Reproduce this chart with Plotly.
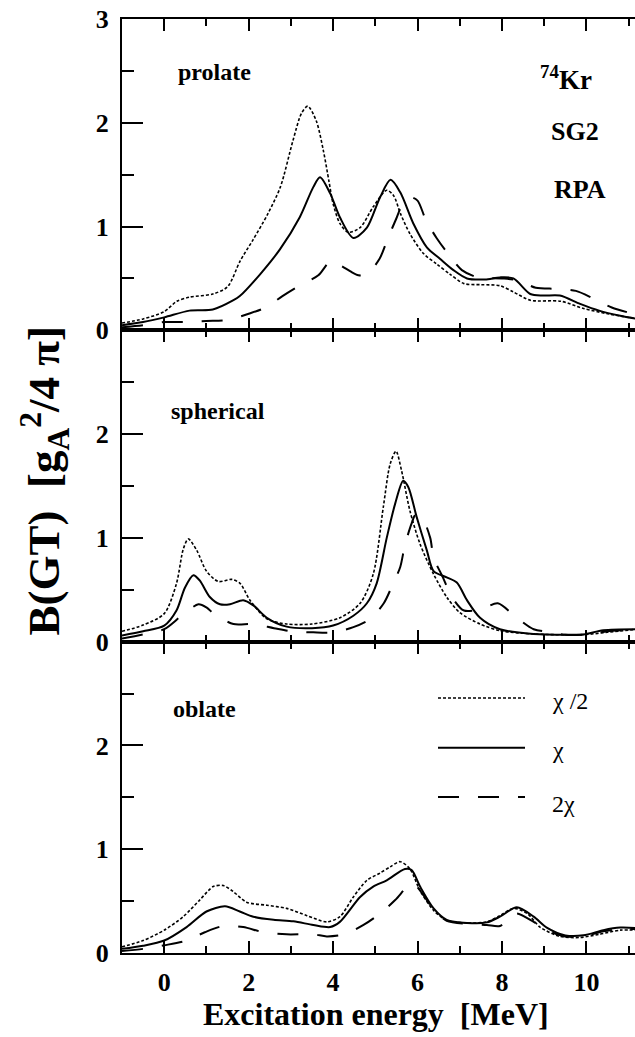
import plotly.graph_objects as go

SERIF = "Liberation Serif, Times New Roman, Times, serif"

# ---------------- data (Excitation energy [MeV], B(GT)) ----------------
# prolate panel
pro_half_x = [-1, -0.5, 0, 0.3, 0.6, 1.15, 1.5, 1.8, 2.1, 2.45, 2.75, 3.05, 3.25, 3.4, 3.6, 3.77, 3.9, 4.0,
              4.16, 4.36, 4.64, 4.95, 5.27, 5.43, 5.6, 5.82, 6.14, 6.45, 6.77, 7.1, 7.5, 7.95, 8.27, 8.67,
              9.4, 9.93, 10.5, 11.2]
pro_half_y = [0.07, 0.11, 0.18, 0.28, 0.32, 0.35, 0.42, 0.67, 0.87, 1.12, 1.38, 1.83, 2.09, 2.16, 2.02, 1.73,
              1.44, 1.22, 1.03, 0.945, 0.99, 1.19, 1.35, 1.30, 1.12, 0.93, 0.74, 0.64, 0.54, 0.45, 0.44, 0.43,
              0.37, 0.29, 0.28, 0.21, 0.16, 0.11]
pro_one_x = [-1, -0.5, 0, 0.6, 1.15, 1.64, 1.79, 2.27, 2.74, 3.21, 3.53, 3.69, 3.93, 4.16, 4.48, 4.8, 5.11,
             5.36, 5.59, 5.9, 6.22, 6.53, 6.85, 7.17, 7.6, 7.95, 8.27, 8.67, 8.97, 9.37, 9.85, 10.3, 10.8, 11.2]
pro_one_y = [0.05, 0.08, 0.125, 0.19, 0.20, 0.29, 0.33, 0.54, 0.78, 1.09, 1.38, 1.475, 1.32, 1.09, 0.89, 0.99,
             1.28, 1.45, 1.33, 1.03, 0.80, 0.69, 0.58, 0.50, 0.49, 0.51, 0.50, 0.35, 0.335, 0.335, 0.255, 0.19,
             0.14, 0.11]
pro_two_x = [-1, -0.5, 0, 0.5, 1.0, 1.5, 2.0, 2.4, 2.8, 3.2, 3.65, 3.95, 4.2, 4.4, 4.6, 4.8, 5.1, 5.3, 5.5,
             5.65, 5.85, 6.0, 6.2, 6.45, 6.72, 7.05, 7.43, 8.0, 8.4, 8.8, 9.3, 9.75, 10.15, 10.6, 11.2]
pro_two_y = [0.03, 0.05, 0.08, 0.08, 0.09, 0.10, 0.16, 0.22, 0.33, 0.43, 0.53, 0.67, 0.62, 0.57, 0.53, 0.54,
             0.69, 0.89, 1.08, 1.22, 1.28, 1.25, 1.06, 0.89, 0.74, 0.58, 0.51, 0.50, 0.48, 0.41, 0.40, 0.38,
             0.31, 0.22, 0.15]

# spherical panel
sph_half_x = [-1, -0.5, 0, 0.29, 0.45, 0.57, 0.77, 1.0, 1.28, 1.6, 1.8, 2.03, 2.43, 2.9, 3.5, 4.16, 4.64,
              4.95, 5.19, 5.35, 5.49, 5.62, 5.82, 6.06, 6.38, 6.69, 7.0, 7.48, 7.95, 8.75, 9.5, 10.0, 10.5, 11.2]
sph_half_y = [0.10, 0.16, 0.27, 0.56, 0.89, 0.99, 0.88, 0.68, 0.58, 0.60, 0.56, 0.40, 0.22, 0.17, 0.17, 0.23,
              0.37, 0.65, 1.30, 1.71, 1.835, 1.65, 1.26, 0.94, 0.65, 0.43, 0.28, 0.17, 0.106, 0.074, 0.066,
              0.07, 0.09, 0.12]
sph_one_x = [-1, -0.5, 0, 0.29, 0.49, 0.69, 0.84, 1.08, 1.32, 1.56, 1.87, 2.11, 2.43, 2.9, 3.5, 4.0, 4.48,
             4.8, 5.03, 5.27, 5.47, 5.66, 5.78, 5.98, 6.22, 6.38, 6.69, 6.93, 7.17, 7.48, 7.95, 8.75, 9.5,
             9.93, 10.4, 11.2]
sph_one_y = [0.06, 0.10, 0.154, 0.30, 0.52, 0.64, 0.59, 0.43, 0.36, 0.36, 0.40, 0.35, 0.23, 0.145, 0.13,
             0.155, 0.25, 0.37, 0.56, 1.0, 1.33, 1.55, 1.49, 1.2, 0.88, 0.68, 0.62, 0.57, 0.40, 0.23, 0.12,
             0.074, 0.066, 0.07, 0.11, 0.12]
sph_two_x = [-1, -0.5, 0, 0.41, 0.81, 1.0, 1.2, 1.64, 2.1, 2.6, 3.0, 3.53, 4.0, 4.48, 4.88, 5.2, 5.4, 5.59,
             5.7, 5.86, 5.95, 6.1, 6.3, 6.38, 6.6, 6.8, 7.1, 7.56, 7.9, 8.35, 8.75, 9.2, 9.5, 10.0, 10.5, 11.2]
sph_two_y = [0.03, 0.07, 0.12, 0.25, 0.36, 0.33, 0.26, 0.17, 0.17, 0.13, 0.10, 0.09, 0.09, 0.14, 0.22, 0.37,
             0.54, 0.72, 0.93, 1.14, 1.22, 1.2, 1.0, 0.81, 0.62, 0.44, 0.30, 0.32, 0.37, 0.23, 0.12, 0.09,
             0.066, 0.07, 0.10, 0.12]

# oblate panel
obl_half_x = [-1, -0.5, 0, 0.45, 0.84, 1.16, 1.4, 1.64, 1.95, 2.43, 2.9, 3.38, 3.85, 4.16, 4.48, 4.8, 5.11,
              5.35, 5.59, 5.82, 6.06, 6.38, 6.69, 7.17, 7.64, 7.95, 8.27, 8.6, 8.9, 9.37, 9.85, 10.3, 10.8, 11.2]
obl_half_y = [0.06, 0.12, 0.22, 0.35, 0.51, 0.64, 0.65, 0.59, 0.49, 0.46, 0.43, 0.36, 0.30, 0.35, 0.54, 0.70,
              0.77, 0.83, 0.88, 0.81, 0.60, 0.41, 0.315, 0.29, 0.30, 0.36, 0.43, 0.38, 0.25, 0.16, 0.15, 0.18,
              0.22, 0.22]
obl_one_x = [-1, -0.5, 0, 0.53, 1.0, 1.44, 1.79, 2.11, 2.59, 3.06, 3.53, 3.93, 4.16, 4.64, 4.95, 5.27, 5.7,
             5.86, 6.06, 6.38, 6.69, 7.17, 7.64, 7.95, 8.35, 8.75, 9.06, 9.5, 9.93, 10.4, 10.8, 11.2]
obl_one_y = [0.04, 0.07, 0.12, 0.25, 0.40, 0.45, 0.40, 0.35, 0.32, 0.305, 0.27, 0.25, 0.30, 0.54, 0.64, 0.70,
             0.81, 0.80, 0.64, 0.43, 0.32, 0.29, 0.295, 0.35, 0.44, 0.35, 0.245, 0.17, 0.17, 0.22, 0.245, 0.24]
obl_two_x = [-1, -0.5, 0, 0.53, 0.96, 1.4, 1.87, 2.35, 2.9, 3.53, 3.85, 4.27, 4.72, 5.11, 5.47, 5.78, 5.9,
             6.1, 6.38, 6.69, 7.17, 7.64, 7.95, 8.2, 8.35, 8.75, 9.06, 9.5, 9.93, 10.4, 10.8, 11.2]
obl_two_y = [0.02, 0.04, 0.074, 0.12, 0.20, 0.26, 0.25, 0.20, 0.18, 0.18, 0.16, 0.18, 0.27, 0.38, 0.51, 0.65,
             0.67, 0.58, 0.42, 0.31, 0.28, 0.27, 0.26, 0.35, 0.38, 0.30, 0.22, 0.16, 0.16, 0.21, 0.23, 0.23]

x_ticks = [0, 2, 4, 6, 8, 10]
x_minor = [1, 3, 5, 7, 9, 11]
panel_names = ["prolate", "spherical", "oblate"]
series_names = ["\u03c7 /2", "\u03c7", "2\u03c7"]

# ---------------- styles ----------------
STYLES = [
    dict(color="black", width=1.6, dash="3px,2px"),
    dict(color="black", width=2.0),
    dict(color="black", width=2.0, dash="21px,19px"),
]

fig = go.Figure()

panels = [  # (xaxis, yaxis, data)
    ("x3", "y3", [(pro_half_x, pro_half_y), (pro_one_x, pro_one_y), (pro_two_x, pro_two_y)]),
    ("x2", "y2", [(sph_half_x, sph_half_y), (sph_one_x, sph_one_y), (sph_two_x, sph_two_y)]),
    ("x", "y", [(obl_half_x, obl_half_y), (obl_one_x, obl_one_y), (obl_two_x, obl_two_y)]),
]
for xa, ya, data in panels:
    for (xs, ys), st, nm in zip(data, STYLES, series_names):
        fig.add_trace(go.Scatter(x=xs, y=ys, mode="lines", name=nm, xaxis=xa, yaxis=ya,
                                 line=dict(shape="spline", smoothing=0.8, **st),
                                 showlegend=False, hoverinfo="skip"))

TICKFONT = dict(family=SERIF, size=26, color="black", weight="bold")
XR = [-1.0, 11.15]


def xaxis(anchor, labels):
    return dict(range=XR, anchor=anchor, showline=True, linewidth=2, linecolor="black",
                mirror="ticks", ticks="inside", ticklen=12, tickwidth=2, tickcolor="black",
                tickvals=x_ticks, showticklabels=labels, tickfont=TICKFONT, ticklabelstandoff=5,
                minor=dict(tickvals=x_minor, ticks="inside", ticklen=7, tickwidth=2, tickcolor="black"),
                showgrid=False, zeroline=False, fixedrange=True)


def yaxis(anchor, dom, vals):
    return dict(range=[0, 3], domain=dom, anchor=anchor, showline=True, linewidth=2, linecolor="black",
                ticks="inside", ticklen=21, tickwidth=2, tickcolor="black", tickvals=vals,
                tickfont=TICKFONT, ticklabelstandoff=6,
                minor=dict(tickvals=[0.5, 1.5, 2.5], ticks="inside", ticklen=12, tickwidth=2,
                           tickcolor="black"),
                showgrid=False, zeroline=False, fixedrange=True)


def yright(over, anchor):
    return dict(range=[0, 3], overlaying=over, anchor=anchor, side="right", showline=False,
                ticks="inside", ticklen=14, tickwidth=2, tickcolor="black", tickvals=[0, 1, 2, 3],
                showticklabels=False,
                minor=dict(tickvals=[0.5, 1.5, 2.5], ticks="inside", ticklen=5, tickwidth=2,
                           tickcolor="black"),
                showgrid=False, zeroline=False, fixedrange=True)


fig.update_layout(
    width=635, height=1037,
    margin=dict(l=122, r=0, t=19, b=84),
    paper_bgcolor="white", plot_bgcolor="white",
    showlegend=False,
    xaxis=xaxis("y", True),
    xaxis2=xaxis("y2", False),
    xaxis3=xaxis("y3", False),
    yaxis=yaxis("x", [0, 1 / 3], [0, 1, 2]),
    yaxis2=yaxis("x2", [1 / 3, 2 / 3], [0, 1, 2]),
    yaxis3=yaxis("x3", [2 / 3, 1], [0, 1, 2, 3]),
    yaxis4=yright("y", "x"),
    yaxis5=yright("y2", "x2"),
    yaxis6=yright("y3", "x3"),
)

W, H, L, T = 513.0, 934.0, 122.0, 19.0


def px(x):
    return (x - L) / W


def py(y):
    return (T + H - y) / H


def ann(text, x, y, size, xanchor="center", weight="bold", angle=0):
    fig.add_annotation(text=text, x=px(x), y=py(y), xref="paper", yref="paper", showarrow=False,
                       xanchor=xanchor, yanchor="middle", textangle=angle,
                       font=dict(family=SERIF, size=size, color="black", weight=weight))


# panel labels
ann(panel_names[0], 214, 71.6, 24)
ann(panel_names[1], 218, 411.3, 24)
ann(panel_names[2], 204.5, 709.3, 24)
# nucleus / interaction / method
ann("<sup>74</sup>Kr", 566, 78, 27)
ann("SG2", 575, 131.3, 26)
ann("RPA", 580, 189.6, 26)
# axis titles
ann("Excitation energy\u00a0 [MeV]", 376, 1014, 32)
ann("B(GT)\u00a0 [g<sub>A</sub><sup>2</sup>/4 \u03c0]", 44, 481.5, 45, angle=-90)

# legend (sample lines + labels)
leg_y = [698, 747.7, 797]
leg_txt_y = [700.6, 749.6, 804.3]
for st, yy, ty, nm in zip(STYLES, leg_y, leg_txt_y, series_names):
    fig.add_shape(type="line", xref="paper", yref="paper", x0=px(438), x1=px(525), y0=py(yy), y1=py(yy),
                  line=st)
    ann(nm, 550, ty, 24, xanchor="left", weight="normal")

fig.write_html("out.html", config={"displayModeBar": False, "staticPlot": True})
